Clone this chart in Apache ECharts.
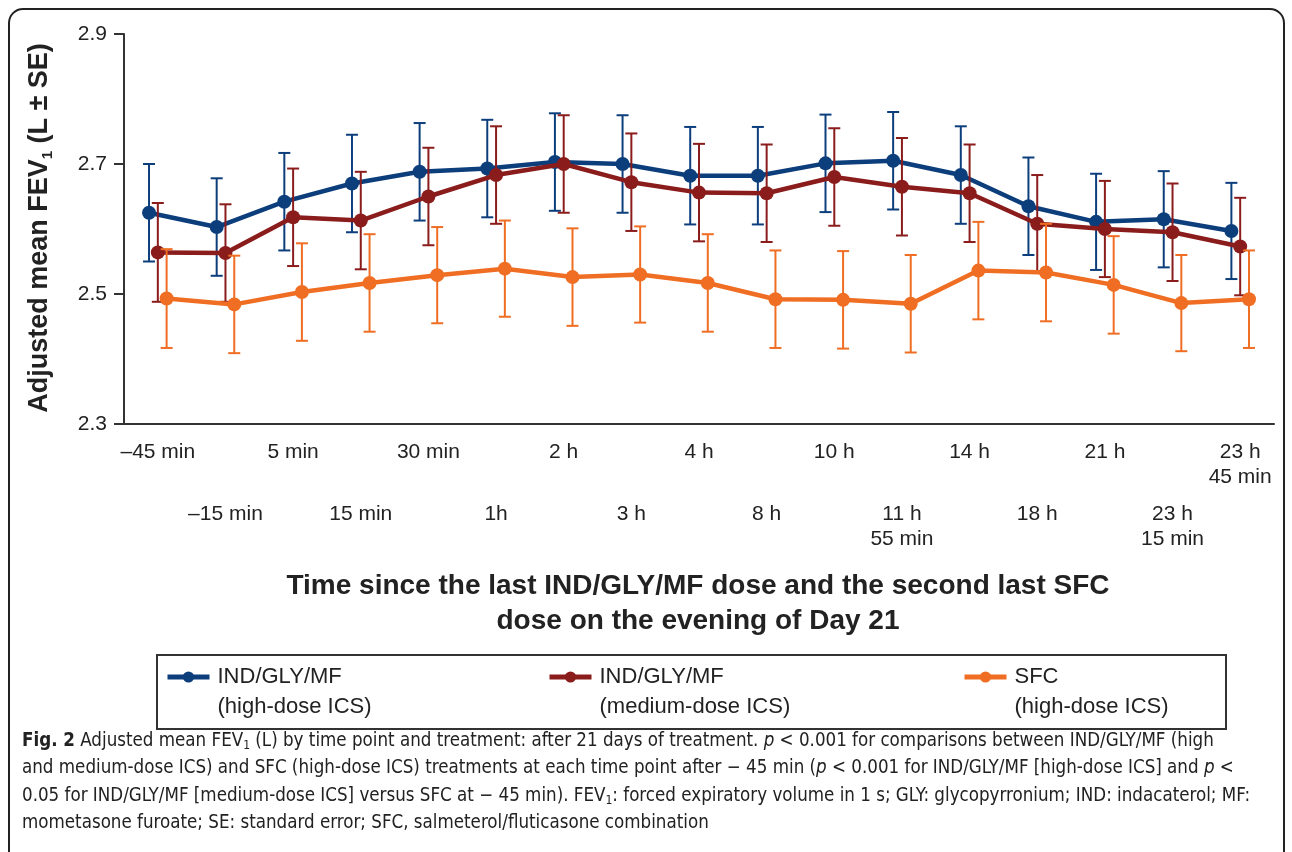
<!DOCTYPE html>
<html>
<head>
<meta charset="utf-8">
<script src="https://cdn.jsdelivr.net/npm/echarts@6/dist/echarts.min.js"></script>
<style>
  html, body { margin: 0; padding: 0; background: #fff; }
  #chart { width: 1292px; height: 852px; }
</style>
</head>
<body>
<div id="chart"></div>
<script>
// time points (two-row labels: even index on top row, odd index on bottom row)
var categories = ['–45 min', '–15 min', '5 min', '15 min', '30 min', '1h', '2 h', '3 h', '4 h',
  '8 h', '10 h', '11 h\n55 min', '14 h', '18 h', '21 h', '23 h\n15 min', '23 h\n45 min'];

// adjusted mean FEV1 (L)
var highDose = [2.625, 2.603, 2.642, 2.670, 2.688, 2.693, 2.703, 2.700, 2.682, 2.682, 2.701, 2.705, 2.683, 2.635, 2.611, 2.615, 2.597];
var mediumDose = [2.564, 2.563, 2.618, 2.613, 2.650, 2.683, 2.700, 2.672, 2.656, 2.655, 2.680, 2.665, 2.655, 2.608, 2.600, 2.595, 2.573];
var sfc = [2.493, 2.484, 2.503, 2.517, 2.529, 2.539, 2.526, 2.530, 2.517, 2.492, 2.491, 2.485, 2.536, 2.533, 2.514, 2.486, 2.492];

// standard errors
var highDoseSE = [0.075, 0.075, 0.075, 0.075, 0.075, 0.075, 0.075, 0.075, 0.075, 0.075, 0.075, 0.075, 0.075, 0.075, 0.074, 0.074, 0.074];
var mediumDoseSE = [0.076, 0.075, 0.075, 0.075, 0.075, 0.075, 0.075, 0.075, 0.075, 0.075, 0.075, 0.075, 0.075, 0.075, 0.074, 0.075, 0.075];
var sfcSE = [0.076, 0.075, 0.075, 0.075, 0.074, 0.074, 0.075, 0.074, 0.075, 0.075, 0.075, 0.075, 0.075, 0.075, 0.075, 0.074, 0.075];

var yTicks = [2.3, 2.5, 2.7, 2.9];

var names = ['IND/GLY/MF\n(high-dose ICS)', 'IND/GLY/MF\n(medium-dose ICS)', 'SFC\n(high-dose ICS)'];
var colors = ['#0c3e7c', '#8a1c1c', '#ef6e23'];
var shifts = [-0.13, 0, 0.13];   // small dodge so the error bars don't overlap
var means = [highDose, mediumDose, sfc];
var errs = [highDoseSE, mediumDoseSE, sfcSE];

var FONT = "'Liberation Sans', Arial, Helvetica, sans-serif";
var NARROW = "'Liberation Sans Narrow', 'DejaVu Sans Condensed', 'Open Sans', sans-serif";

var myChart = echarts.init(document.getElementById('chart'));

var seriesArr = [];
means.forEach(function (vals, s) {
  var errData = vals.map(function (v, i) {
    return [i + shifts[s], v - errs[s][i], v + errs[s][i]];
  });
  seriesArr.push({
    name: 'se' + s,
    type: 'custom',
    xAxisIndex: 2,
    yAxisIndex: 0,
    z: 2 + s * 2,
    encode: { x: 0, y: [1, 2] },
    data: errData,
    renderItem: function (params, api) {
      var x = api.value(0);
      var top = api.coord([x, api.value(2)]);
      var bot = api.coord([x, api.value(1)]);
      var st = { stroke: colors[s], lineWidth: 2 };
      return {
        type: 'group',
        children: [
          { type: 'line', shape: { x1: top[0], y1: top[1], x2: bot[0], y2: bot[1] }, style: st },
          { type: 'line', shape: { x1: top[0] - 6, y1: top[1], x2: top[0] + 6, y2: top[1] }, style: st },
          { type: 'line', shape: { x1: bot[0] - 6, y1: bot[1], x2: bot[0] + 6, y2: bot[1] }, style: st }
        ]
      };
    }
  });
  seriesArr.push({
    name: names[s],
    type: 'line',
    xAxisIndex: 2,
    yAxisIndex: 0,
    z: 3 + s * 2,
    data: vals.map(function (v, i) { return [i + shifts[s], v]; }),
    symbol: 'circle',
    symbolSize: 14,
    lineStyle: { color: colors[s], width: 4.5 },
    itemStyle: { color: colors[s] },
    animation: false
  });
});

function legendFor(idx, left) {
  return {
    data: [names[idx]],
    left: left,
    top: 632,
    padding: 0,
    itemWidth: 42,
    itemHeight: 14,
    selectedMode: false,
    lineStyle: { width: 5 },
    // blank first line so that the icon sits next to the first text line
    formatter: function (n) { return ' \n' + n; },
    textStyle: {
      fontFamily: FONT,
      fontSize: 22,
      lineHeight: 30,
      color: '#222',
      padding: [0, 0, 0, 3]
    }
  };
}

var option = {
  backgroundColor: '#fff',
  animation: false,
  grid: { left: 124, right: 18, top: 34, bottom: 428, containLabel: false },
  legend: [legendFor(0, 165), legendFor(1, 547), legendFor(2, 962)],
  xAxis: [
    {
      type: 'category',
      data: categories,
      position: 'bottom',
      axisLine: { onZero: false, lineStyle: { color: '#333', width: 2 } },
      axisTick: { alignWithLabel: true, interval: 0, length: 10, lineStyle: { color: '#333', width: 2 } },
      axisLabel: {
        interval: function (i) { return i % 2 === 0; },
        margin: 16,
        fontFamily: FONT,
        fontSize: 21,
        lineHeight: 25,
        color: '#222'
      }
    },
    {
      type: 'category',
      data: categories,
      position: 'bottom',
      axisLine: { show: false, onZero: false },
      axisTick: {
        alignWithLabel: true,
        interval: function (i) { return i % 2 === 1; },
        length: 68,
        lineStyle: { color: '#333', width: 2 }
      },
      axisLabel: {
        interval: function (i) { return i % 2 === 1; },
        margin: 78,
        fontFamily: FONT,
        fontSize: 21,
        lineHeight: 25,
        color: '#222'
      }
    },
    {
      type: 'value',
      min: -0.5,
      max: categories.length - 0.5,
      show: false
    }
  ],
  yAxis: {
    type: 'value',
    min: yTicks[0],
    max: yTicks[yTicks.length - 1],
    interval: 0.2,
    axisLine: { show: true, onZero: false, lineStyle: { color: '#333', width: 2 } },
    axisTick: { show: true, length: 10, lineStyle: { color: '#333', width: 2 } },
    splitLine: { show: false },
    axisLabel: {
      margin: 17,
      fontFamily: FONT,
      fontSize: 21,
      color: '#222',
      formatter: function (v) { return v.toFixed(1); }
    }
  },
  graphic: [
    {
      type: 'rect',
      shape: { x: 9, y: 9, width: 1275, height: 900, r: 14 },
      style: { fill: 'none', stroke: '#222', lineWidth: 2 },
      silent: true
    },
    {
      type: 'text',
      x: 40, y: 228,
      rotation: Math.PI / 2,
      style: {
        text: 'Adjusted mean FEV{s|1} (L ± SE)',
        font: 'bold 27px ' + FONT,
        fill: '#222',
        align: 'center',
        verticalAlign: 'middle',
        rich: {
          s: { fontSize: 15, fontWeight: 'bold', fontFamily: FONT, fill: '#222', verticalAlign: 'bottom', padding: [15, 0, 0, 0] }
        }
      }
    },
    {
      type: 'text',
      x: 698, y: 604,
      style: {
        text: 'Time since the last IND/GLY/MF dose and the second last SFC\ndose on the evening of Day 21',
        font: 'bold 28px ' + FONT,
        fill: '#222',
        align: 'center',
        verticalAlign: 'middle',
        lineHeight: 35
      }
    },
    {
      type: 'rect',
      shape: { x: 157, y: 655, width: 1069, height: 74 },
      style: { fill: 'none', stroke: '#333', lineWidth: 2 },
      silent: true
    },
    {
      type: 'group',
      children: [
        '{b|Fig. 2} Adjusted mean FEV{s|1} (L) by time point and treatment: after 21 days of treatment. {i|p} < 0.001 for comparisons between IND/GLY/MF (high',
        'and medium-dose ICS) and SFC (high-dose ICS) treatments at each time point after − 45 min ({i|p} < 0.001 for IND/GLY/MF [high-dose ICS] and {i|p} <',
        '0.05 for IND/GLY/MF [medium-dose ICS] versus SFC at − 45 min). FEV{s|1}: forced expiratory volume in 1 s; GLY: glycopyrronium; IND: indacaterol; MF:',
        'mometasone furoate; SE: standard error; SFC, salmeterol/fluticasone combination'
      ].map(function (line, k) {
        return {
          type: 'text',
          x: 22, y: 741 + k * 27.5,
          style: {
            text: line,
            font: '18.6px ' + NARROW,
            fill: '#222',
            verticalAlign: 'middle',
            rich: {
              b: { fontSize: 18.6, fontWeight: 'bold', fontFamily: NARROW, fill: '#222' },
              i: { fontSize: 18.6, fontStyle: 'italic', fontFamily: NARROW, fill: '#222' },
              s: { fontSize: 12, fontFamily: NARROW, fill: '#222', verticalAlign: 'bottom', padding: [10, 0, 0, 0] }
            }
          }
        };
      })
    }
  ],
  series: seriesArr
};

myChart.setOption(option, true);
</script>
</body>
</html>
